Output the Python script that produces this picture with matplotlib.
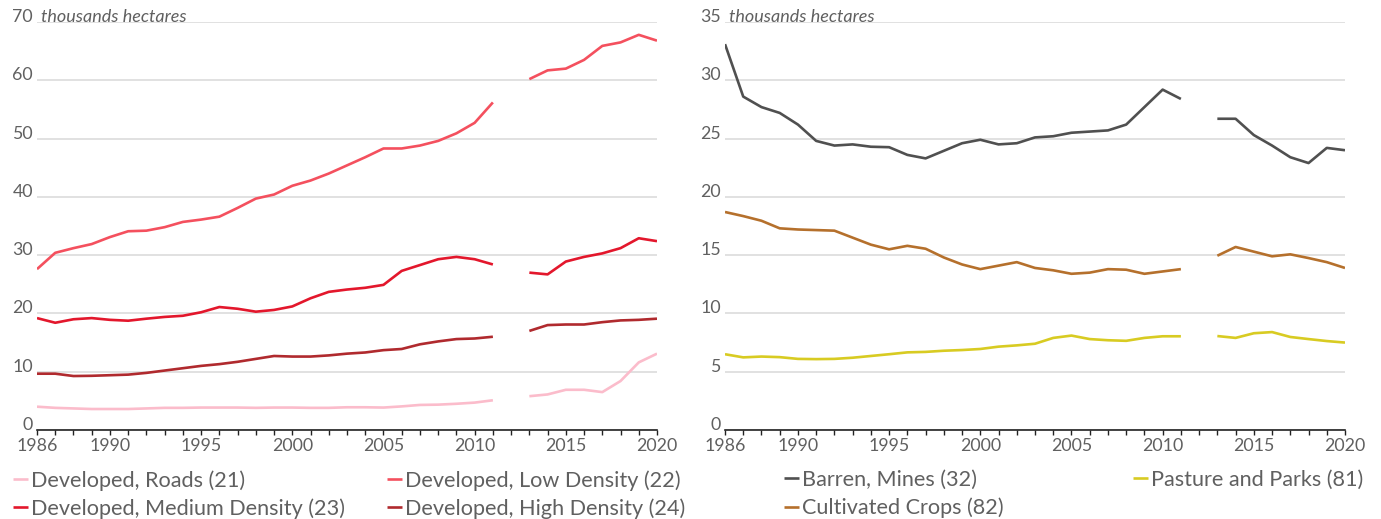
import matplotlib
matplotlib.use("Agg")
import matplotlib.pyplot as plt
import numpy as np

nan = np.nan
years = list(range(1986, 2021))

roads = [4.0, 3.8, 3.7, 3.6, 3.6, 3.6, 3.7, 3.8, 3.8, 3.85, 3.85, 3.85, 3.8, 3.85, 3.85, 3.8, 3.8,
         3.9, 3.9, 3.85, 4.05, 4.3, 4.35, 4.5, 4.7, 5.1, nan, 5.8, 6.1, 6.9, 6.9, 6.5, 8.4, 11.6, 13.1]
low = [27.6, 30.4, 31.2, 31.9, 33.1, 34.1, 34.2, 34.8, 35.7, 36.1, 36.6, 38.1, 39.7, 40.4, 41.9, 42.8,
       44.0, 45.4, 46.8, 48.3, 48.3, 48.8, 49.6, 50.9, 52.7, 56.2, nan, 60.2, 61.7, 62.0, 63.5, 65.9,
       66.5, 67.8, 66.8]
medium = [19.2, 18.4, 19.0, 19.2, 18.9, 18.75, 19.1, 19.4, 19.6, 20.2, 21.1, 20.8, 20.3, 20.6, 21.2,
          22.6, 23.7, 24.1, 24.4, 24.9, 27.3, 28.3, 29.3, 29.7, 29.3, 28.4, nan, 27.0, 26.7, 28.9,
          29.7, 30.3, 31.2, 32.9, 32.4]
high = [9.66, 9.66, 9.26, 9.3, 9.4, 9.5, 9.8, 10.2, 10.6, 11.0, 11.3, 11.7, 12.2, 12.7, 12.6, 12.6,
        12.8, 13.1, 13.3, 13.7, 13.9, 14.7, 15.2, 15.6, 15.7, 16.0, nan, 17.0, 18.0, 18.1, 18.1,
        18.5, 18.8, 18.9, 19.1]

barren = [33.1, 28.6, 27.7, 27.2, 26.2, 24.8, 24.4, 24.5, 24.3, 24.26, 23.6, 23.3, 23.95, 24.6,
          24.9, 24.5, 24.6, 25.1, 25.2, 25.5, 25.6, 25.7, 26.2, 27.7, 29.2, 28.4, nan, 26.7, 26.7,
          25.3, 24.4, 23.4, 22.9, 24.2, 24.0]
crops = [18.7, 18.35, 17.95, 17.3, 17.2, 17.15, 17.1, 16.5, 15.9, 15.5, 15.8, 15.55, 14.8, 14.2,
         13.8, 14.1, 14.4, 13.9, 13.7, 13.4, 13.5, 13.8, 13.75, 13.4, 13.6, 13.8, nan, 14.95, 15.7,
         15.3, 14.9, 15.07, 14.75, 14.4, 13.9]
pasture = [6.5, 6.23, 6.3, 6.25, 6.1, 6.08, 6.1, 6.2, 6.35, 6.5, 6.66, 6.7, 6.8, 6.86, 6.95, 7.15,
           7.26, 7.4, 7.9, 8.1, 7.8, 7.7, 7.65, 7.9, 8.04, 8.04, nan, 8.06, 7.9, 8.3, 8.4, 7.98,
           7.8, 7.63, 7.5]

xticks = [1986, 1990, 1995, 2000, 2005, 2010, 2015, 2020]
left_yticks = [0, 10, 20, 30, 40, 50, 60, 70]
right_yticks = [0, 5, 10, 15, 20, 25, 30, 35]
unit_label = "thousands hectares"

left_series = [("Developed, Roads (21)", roads, "#FBBCCB"),
               ("Developed, Low Density (22)", low, "#F4505E"),
               ("Developed, Medium Density (23)", medium, "#E3172C"),
               ("Developed, High Density (24)", high, "#B02A2E")]
right_series = [("Barren, Mines (32)", barren, "#505050"),
                ("Pasture and Parks (81)", pasture, "#D8CB22"),
                ("Cultivated Crops (82)", crops, "#B5702C")]

plt.rcParams['font.family'] = ['Lato', 'DejaVu Sans']
TXT = "#606060"

W, H = 1381, 519
fig = plt.figure(figsize=(W / 100, H / 100), dpi=100)

def make_ax(x0, x1, yticks, series):
    ax = fig.add_axes([x0 / W, (H - 430) / H, (x1 - x0) / W, 408 / H])
    lines = {}
    for name, vals, col in series:
        ln, = ax.plot(years, vals, color=col, lw=1.9, label=name, solid_capstyle='butt')
        lines[name] = ln
    ax.set_xlim(1986, 2020)
    ax.set_ylim(yticks[0], yticks[-1])
    ax.set_yticks(yticks)
    ax.set_xticks(xticks)
    ax.set_xticks(years, minor=True)
    ax.grid(axis='y', color='#D9D9D9', lw=1.1)
    ax.set_axisbelow(True)
    for s in ['left', 'right', 'top']:
        ax.spines[s].set_visible(False)
    ax.spines['bottom'].set_color('#222222')
    ax.spines['bottom'].set_linewidth(1.2)
    ax.tick_params(axis='y', length=0, pad=3, labelsize=12.8, labelcolor=TXT)
    ax.tick_params(axis='x', which='both', length=3.5, width=1.0, color='#222222',
                   direction='out', pad=2.5, labelsize=12.8, labelcolor=TXT)
    for lab in ax.get_yticklabels():
        lab.set_verticalalignment('baseline')
    ax.text(1986.2, yticks[-1], unit_label, fontsize=13, style='italic', color=TXT,
            ha='left', va='baseline')
    return ax, lines

axL, linesL = make_ax(37, 657, left_yticks, left_series)
axR, linesR = make_ax(725, 1345, right_yticks, right_series)

def add_legend(lines, names, x, y):
    leg = fig.legend([lines[n] for n in names], names, loc='upper left',
                     bbox_to_anchor=(x / W, 1 - y / H), frameon=False, fontsize=15.6,
                     handlelength=0.7, handletextpad=0.15, borderpad=0, borderaxespad=0,
                     labelspacing=0.35)
    for t in leg.get_texts():
        t.set_color(TXT)
    return leg

add_legend(linesL, ["Developed, Roads (21)", "Developed, Medium Density (23)"], 13, 470)
add_legend(linesL, ["Developed, Low Density (22)", "Developed, High Density (24)"], 387, 470)
add_legend(linesR, ["Barren, Mines (32)", "Cultivated Crops (82)"], 784, 470)
add_legend(linesR, ["Pasture and Parks (81)"], 1133, 470)

fig.savefig("out.png", dpi=100)
